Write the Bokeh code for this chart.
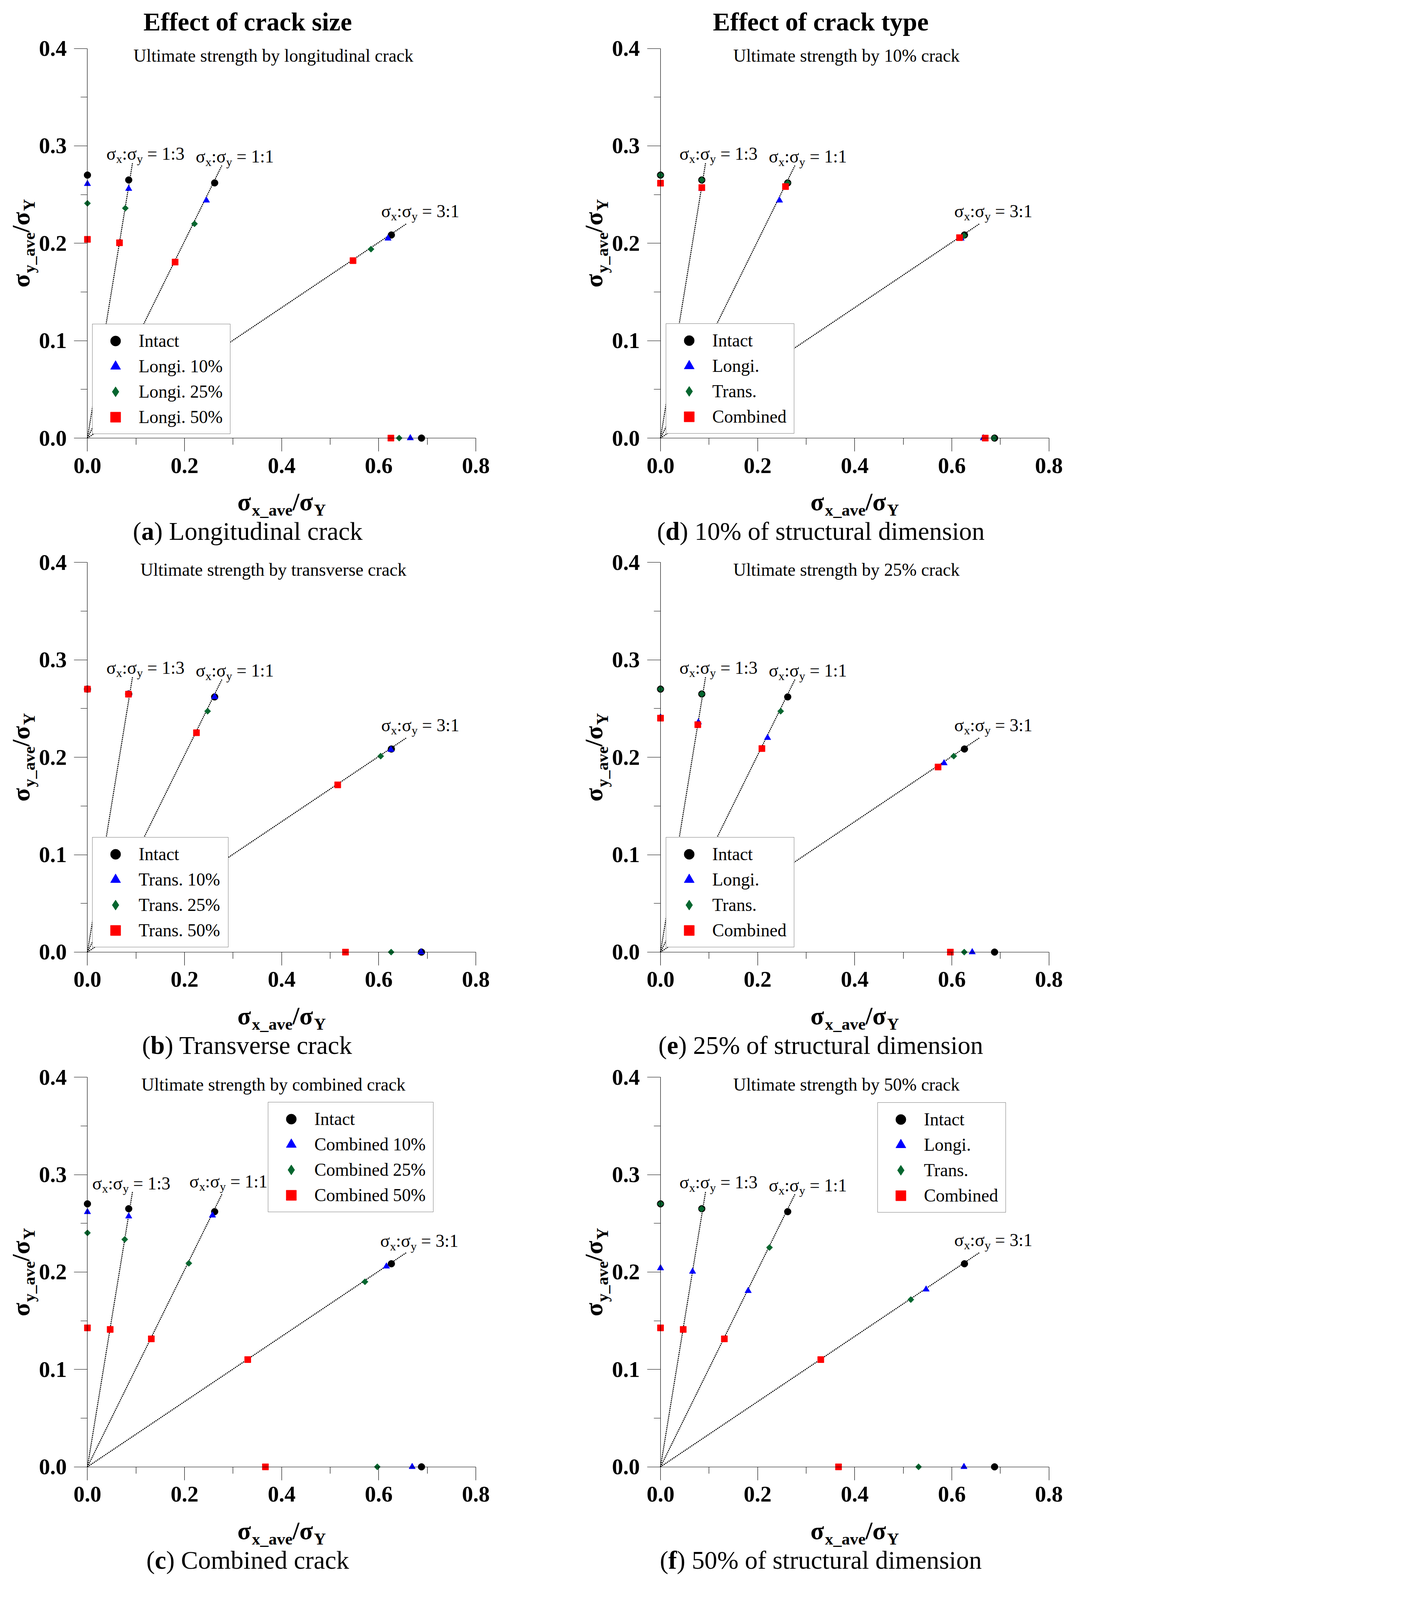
import math
from bokeh.plotting import figure
from bokeh.models import (Range1d, FixedTicker, PrintfTickFormatter, Label,
                          Legend, LegendItem)
from bokeh.layouts import gridplot
from bokeh.embed import file_html
from bokeh.resources import INLINE

# ---------------------------------------------------------------- data
# load cases in order: sx:sy = 0:1 (pure y), 1:3, 1:1, 3:1, 1:0 (pure x)
intact_x = [0.000, 0.085, 0.262, 0.626, 0.688]
intact_y = [0.270, 0.265, 0.262, 0.2085, 0.000]

longi10_x = [0.000, 0.085, 0.245, 0.619, 0.665]
longi10_y = [0.261, 0.256, 0.244, 0.205, 0.000]
longi25_x = [0.000, 0.078, 0.2205, 0.584, 0.642]
longi25_y = [0.241, 0.236, 0.220, 0.194, 0.000]
longi50_x = [0.000, 0.066, 0.1805, 0.547, 0.625]
longi50_y = [0.204, 0.2005, 0.1807, 0.1822, 0.000]

trans10_x = [0.000, 0.085, 0.262, 0.625, 0.687]
trans10_y = [0.270, 0.265, 0.262, 0.2078, 0.000]
trans25_x = [0.000, 0.085, 0.2475, 0.604, 0.6255]
trans25_y = [0.270, 0.265, 0.2473, 0.2012, 0.000]
trans50_x = [0.000, 0.0845, 0.2245, 0.5155, 0.5315]
trans50_y = [0.270, 0.2648, 0.2252, 0.1717, 0.000]

comb10_x = [0.000, 0.085, 0.2575, 0.6158, 0.6688]
comb10_y = [0.2617, 0.2572, 0.2582, 0.2058, 0.000]
comb25_x = [0.000, 0.0768, 0.2088, 0.5716, 0.597]
comb25_y = [0.2402, 0.2335, 0.209, 0.190, 0.000]
comb50_x = [0.000, 0.0468, 0.1315, 0.3301, 0.3666]
comb50_y = [0.1427, 0.1411, 0.1314, 0.1101, 0.000]

ratio_labels = ["1:3", "1:1", "3:1"]
ratio_line_x0 = [0.0, 0.0, 0.0]
ratio_line_y0 = [0.0, 0.0, 0.0]
ratio_line_x1 = [0.093, 0.277, 0.657]
ratio_line_y1 = [0.283, 0.280, 0.220]

x_ticks = [0.0, 0.2, 0.4, 0.6, 0.8]
x_minor = [0.1, 0.3, 0.5, 0.7]
y_ticks = [0.0, 0.1, 0.2, 0.3, 0.4]
y_minor = [0.05, 0.15, 0.25, 0.35]

column_titles = ["Effect of crack size", "Effect of crack type"]

# ---------------------------------------------------------------- layout
# Geometry below is measured in reference pixels; K scales the whole page so
# that it fits inside the visible browser viewport.
K = 0.76
FONT = "Liberation Serif"
XS = 1636.0   # reference px per data unit (x)
YS = 3281.0   # reference px per data unit (y)
BASE_FIX = 0.22  # labels render ~0.22 em below the requested alphabetic baseline

COL_EDGES = [0, 1900, 3623]          # ref px from the page origin
COL_X0 = [294, 325]                  # ref px from column edge to data x = 0
ROW_EDGES = [0, 1844, 3576, 5339]
ROW_Y0 = [1475, 1363, 1364]          # ref px from row top to data y = 0


def S(v):
    return v * K


STYLES = [
    dict(marker="circle", size=23, color="#000000", angle=0.0),
    dict(marker="triangle", size=22, color="#0000FF", angle=0.0),
    dict(marker="square", size=15, color="#05662F", angle=math.pi / 4),
    dict(marker="square", size=21, color="#FF0000", angle=0.0),
]

RATIO_POS_STD = [(0.039, 0.288), (0.223, 0.285), (0.605, 0.229)]
RATIO_POS_C = [(0.010, 0.287), (0.210, 0.289), (0.603, 0.228)]

panels = [
    dict(row=0, col=0, letter="a", caption="Longitudinal crack",
         subtitle="Ultimate strength by longitudinal crack",
         series=[("Intact", intact_x, intact_y), ("Longi. 10%", longi10_x, longi10_y),
                 ("Longi. 25%", longi25_x, longi25_y), ("Longi. 50%", longi50_x, longi50_y)],
         legend_off=(17, 13), ratio_pos=RATIO_POS_STD),
    dict(row=1, col=0, letter="b", caption="Transverse crack",
         subtitle="Ultimate strength by transverse crack",
         series=[("Intact", intact_x, intact_y), ("Trans. 10%", trans10_x, trans10_y),
                 ("Trans. 25%", trans25_x, trans25_y), ("Trans. 50%", trans50_x, trans50_y)],
         legend_off=(16, 15), ratio_pos=RATIO_POS_STD),
    dict(row=2, col=0, letter="c", caption="Combined crack",
         subtitle="Ultimate strength by combined crack",
         series=[("Intact", intact_x, intact_y), ("Combined 10%", comb10_x, comb10_y),
                 ("Combined 25%", comb25_x, comb25_y), ("Combined 50%", comb50_x, comb50_y)],
         legend_off=(608, 858), ratio_pos=RATIO_POS_C),
    dict(row=0, col=1, letter="d", caption="10% of structural dimension",
         subtitle="Ultimate strength by 10% crack",
         series=[("Intact", intact_x, intact_y), ("Longi.", longi10_x, longi10_y),
                 ("Trans.", trans10_x, trans10_y), ("Combined", comb10_x, comb10_y)],
         legend_off=(19, 15), ratio_pos=RATIO_POS_STD),
    dict(row=1, col=1, letter="e", caption="25% of structural dimension",
         subtitle="Ultimate strength by 25% crack",
         series=[("Intact", intact_x, intact_y), ("Longi.", longi25_x, longi25_y),
                 ("Trans.", trans25_x, trans25_y), ("Combined", comb25_x, comb25_y)],
         legend_off=(19, 15), ratio_pos=RATIO_POS_STD),
    dict(row=2, col=1, letter="f", caption="50% of structural dimension",
         subtitle="Ultimate strength by 50% crack",
         series=[("Intact", intact_x, intact_y), ("Longi.", longi50_x, longi50_y),
                 ("Trans.", trans50_x, trans50_y), ("Combined", comb50_x, comb50_y)],
         legend_off=(732, 856), ratio_pos=RATIO_POS_STD),
]

# Times / Liberation Serif advance widths (1/1000 em)
_REG = dict(zip("abcdefghijklmnopqrstuvwxyz",
                [444, 500, 444, 500, 444, 333, 500, 500, 278, 278, 500, 278, 778,
                 500, 500, 500, 500, 333, 389, 278, 500, 500, 722, 500, 500, 444]))
_REG.update(zip("ABCDEFGHIJKLMNOPQRSTUVWXYZ",
                [722, 667, 667, 722, 611, 556, 722, 722, 333, 389, 722, 611, 889,
                 722, 722, 556, 722, 667, 556, 611, 722, 722, 944, 722, 722, 611]))
_REG.update({" ": 250, "(": 333, ")": 333, "%": 833, ".": 250, "/": 278, ":": 278,
             "=": 564, "_": 500, "\u03c3": 550})
_REG.update({d: 500 for d in "0123456789"})
_BOLD = dict(zip("abcdefghijklmnopqrstuvwxyz",
                 [500, 556, 444, 556, 444, 333, 500, 556, 278, 333, 556, 278, 833,
                  556, 500, 556, 556, 444, 389, 333, 556, 500, 722, 500, 500, 444]))
_BOLD.update(zip("ABCDEFGHIJKLMNOPQRSTUVWXYZ",
                 [722, 667, 722, 722, 667, 611, 778, 778, 389, 500, 778, 667, 944,
                  722, 778, 611, 778, 722, 556, 667, 722, 722, 1000, 722, 722, 667]))
_BOLD.update({" ": 250, "(": 333, ")": 333, "%": 1000, ".": 250, "/": 278, ":": 333,
              "=": 570, "_": 500, "\u03c3": 580})
_BOLD.update({d: 500 for d in "0123456789"})


def tw(s, size, bold):
    t = _BOLD if bold else _REG
    return sum(t.get(ch, 500) for ch in s) / 1000.0 * size


def fs(size):
    return f"{size * K:.1f}px"


def label(p, x, y, text, size, bold=False, align="left", angle=0.0):
    """Text whose alphabetic baseline sits at data (x, y); size in ref px."""
    fix = BASE_FIX * size
    if angle == 0.0:
        y = y + fix / YS
    else:
        x = x - fix / XS
    p.add_layout(Label(x=x, y=y, text=text, angle=angle,
                       text_font=FONT, text_font_size=fs(size),
                       text_font_style="bold" if bold else "normal",
                       text_color="black", text_align=align,
                       text_baseline="alphabetic"))


def rich(p, x, y, pieces, align="left", vertical=False):
    """pieces: (text, ref px size, bold, drop ref px). x, y: data anchor of the baseline."""
    total = sum(tw(t, s, b) for t, s, b, d in pieces)
    pos = {"left": 0.0, "center": -total / 2.0, "right": -total}[align]
    for t, s, b, d in pieces:
        stripped = t.lstrip(" ")
        pos += tw(t[:len(t) - len(stripped)], s, b)
        if vertical:
            label(p, x + d / XS, y + pos / YS, stripped, s, b, angle=math.pi / 2)
        else:
            label(p, x + pos / XS, y - d / YS, stripped, s, b)
        pos += tw(stripped, s, b)


def make_panel(spec):
    ci, ri = spec["col"], spec["row"]
    width = round(S(COL_EDGES[ci + 1])) - round(S(COL_EDGES[ci]))
    height = round(S(ROW_EDGES[ri + 1])) - round(S(ROW_EDGES[ri]))
    x_start = -COL_X0[ci] / XS
    y_end = ROW_Y0[ri] / YS
    x_end = x_start + width / S(XS)
    y_start = y_end - height / S(YS)
    p = figure(width=width, height=height,
               x_range=Range1d(x_start, x_end), y_range=Range1d(y_start, y_end),
               output_backend="svg", toolbar_location=None, tools="", title=None,
               min_border_left=0, min_border_right=0,
               min_border_top=0, min_border_bottom=0)
    p.min_border = 0
    p.background_fill_color = "white"
    p.border_fill_color = "white"
    p.outline_line_color = None
    p.xgrid.visible = False
    p.ygrid.visible = False

    for ax, ticks, minor, bounds, standoff in (
            (p.xaxis[0], x_ticks, x_minor, (0.0, 0.8), 23),
            (p.yaxis[0], y_ticks, y_minor, (0.0, 0.4), 25)):
        ax.ticker = FixedTicker(ticks=ticks, minor_ticks=minor)
        ax.formatter = PrintfTickFormatter(format="%.1f")
        ax.fixed_location = 0.0
        ax.bounds = bounds
        ax.axis_line_width = S(1.5)
        ax.axis_line_color = "black"
        ax.major_tick_line_width = S(1.5)
        ax.minor_tick_line_width = S(1.5)
        ax.major_tick_out = round(S(45))
        ax.major_tick_in = 0
        ax.minor_tick_out = round(S(23))
        ax.minor_tick_in = 0
        ax.major_label_standoff = round(S(standoff))
        ax.major_label_text_font = FONT
        ax.major_label_text_font_style = "bold"
        ax.major_label_text_font_size = fs(75)
        ax.major_label_text_color = "black"

    # dotted load-ratio lines
    p.segment(x0=ratio_line_x0, y0=ratio_line_y0, x1=ratio_line_x1, y1=ratio_line_y1,
              line_color="black", line_width=S(3.5), line_dash="3 2")

    items = []
    for i, ((lbl, xs, ys), st) in enumerate(zip(spec["series"], STYLES)):
        if i == 2:
            # diamond shape for the legend symbol, hidden below the plotted diamonds
            key = p.scatter(x=xs, y=ys, marker="diamond", size=S(20),
                            fill_color=st["color"], line_color=st["color"], line_width=1)
        rr = p.scatter(x=xs, y=ys, marker=st["marker"], size=S(st["size"]),
                       angle=st["angle"], fill_color=st["color"],
                       line_color=st["color"], line_width=1)
        if i != 2:
            key = rr
        items.append(LegendItem(label=lbl, renderers=[key]))

    label_w = max(tw(lbl, 60, False) for lbl, _, _ in spec["series"]) + 12
    dx, dy = spec["legend_off"]
    bottom_to_origin = -y_start * S(YS)
    loc = (int(round(S(COL_X0[ci] + dx))), int(round(bottom_to_origin + S(dy))))
    legend = Legend(items=items, location=loc, margin=0,
                    glyph_width=round(S(127)), glyph_height=round(S(85)),
                    spacing=round(S(-7)), padding=round(S(13)),
                    label_standoff=round(S(14)), label_height=15,
                    label_width=int(round(S(label_w))),
                    label_text_font=FONT, label_text_font_size=fs(60),
                    label_text_color="black",
                    border_line_color="black", border_line_width=S(1.5),
                    background_fill_color="white", background_fill_alpha=1.0)
    p.add_layout(legend)

    # ratio annotations
    for rl, (rx, ry) in zip(ratio_labels, spec["ratio_pos"]):
        rich(p, rx, ry, [("\u03c3", 60, False, 0), ("x", 40, False, 14),
                         (":", 60, False, 0), ("\u03c3", 60, False, 0),
                         ("y", 40, False, 14), (" = " + rl, 60, False, 0)])

    # subtitle inside plot
    label(p, 0.383, 0.3886, spec["subtitle"], 60, align="center")

    # axis labels
    rich(p, 0.40, -233 / YS, [("\u03c3", 84, True, 0), ("x_ave", 56, True, 22),
                              ("/\u03c3", 84, True, 0), ("Y", 56, True, 22)],
         align="center")
    rich(p, -206 / XS, 0.20, [("\u03c3", 84, True, 0), ("y_ave", 56, True, 22),
                              ("/\u03c3", 84, True, 0), ("Y", 56, True, 22)],
         align="center", vertical=True)

    # caption
    rich(p, 0.33, -333 / YS, [("(", 86, False, 0), (spec["letter"], 86, True, 0),
                              (") " + spec["caption"], 86, False, 0)], align="center")

    # column title
    if ri == 0:
        label(p, 0.33, 1383 / YS, column_titles[ci], 87, bold=True, align="center")
    return p


figs = {(s["row"], s["col"]): make_panel(s) for s in panels}
grid = gridplot([[figs[(r, 0)], figs[(r, 1)]] for r in range(3)], toolbar_location=None)

open("out.html", "w").write(file_html(grid, INLINE))
